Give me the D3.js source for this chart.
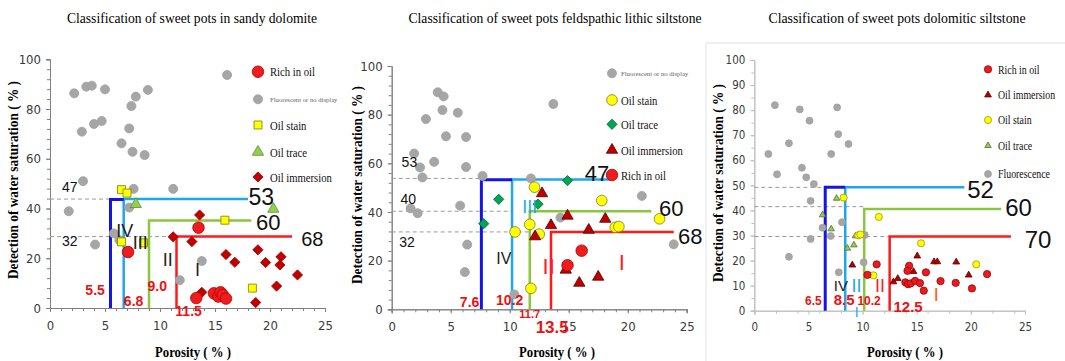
<!DOCTYPE html>
<html>
<head>
<meta charset="utf-8">
<script src="https://cdn.jsdelivr.net/npm/d3@7"></script>
<style>
  body { margin: 0; background: #fff; }
  svg { display: block; }
</style>
</head>
<body>
<svg id="chart" width="1065" height="361"></svg>
<script>
// ---------- data ----------
const titles = [
  "Classification  of sweet pots in sandy dolomite",
  "Classification  of sweet pots feldspathic  lithic  siltstone",
  "Classification  of sweet pots dolomitic  siltstone"
];
const xTickLabels = [0, 5, 10, 15, 20, 25];
const yTicksBy20 = [0, 20, 40, 60, 80, 100];
const yTicksBy10 = [0, 10, 20, 30, 40, 50, 60, 70, 80, 90, 100];

// sandy dolomite  [porosity, water saturation]
const sdFluor = [[2.2,86.3],[3.3,89.0],[3.8,89.4],[5.0,87.9],[8.9,87.7],[7.8,85.0],[7.4,81.2],[2.9,70.9],[4.0,74.0],[4.7,75.2],[7.2,72.2],[6.5,66.2],[7.5,62.8],[8.6,61.5],[16.1,93.7],[3.0,51.0],[1.7,38.9],[7.6,47.9],[11.2,47.9],[7.2,40.4],[4.1,25.5],[5.8,30.0],[6.3,27.3],[13.8,18.9],[11.8,11.2]];
const sdRich = [[7.1,22.5],[13.5,32.3],[13.3,4.0],[14.9,5.9],[15.3,4.6],[15.5,6.3],[15.7,5.3],[16.0,3.8]];
const sdStain = [[6.5,47.6],[7.0,46.2],[15.9,35.3],[18.4,8.0],[6.5,26.6],[8.5,26.2]];
const sdTrace = [[7.8,41.7],[20.3,39.8]];
const sdImmersion = [[11.2,28.6],[12.9,26.7],[13.6,37.4],[13.8,6.3],[16.0,21.5],[16.8,18.4],[18.9,23.4],[19.6,18.3],[21.0,20.6],[20.9,17.3],[22.5,13.3],[20.6,8.8],[18.7,2.2]];
const sdCutPorosity = [5.5, 6.7, 9.0, 11.5];
const sdCutSw = [43.6, 43.8, 35.2, 28.7];
const sdCutEnd = [6.7, 18.0, 18.3, 22.0];
const sdDashSw = [43.8, 28.7];
const sdDashEnd = [5.5, 11.5];

// feldspathic lithic siltstone
const flFluor = [[3.9,89.2],[4.4,87.5],[4.3,81.9],[2.9,78.2],[5.6,80.8],[4.6,71.1],[6.3,70.8],[13.7,84.4],[1.9,64.0],[2.4,58.3],[3.6,60.6],[2.6,54.2],[6.3,58.5],[7.7,54.8],[1.6,41.5],[2.2,39.5],[5.8,42.6],[6.4,26.6],[6.2,15.3],[11.8,53.8],[14.3,37.7],[21.2,46.6],[23.9,26.7],[10.4,6.1]];
const flStain = [[12.1,50.2],[17.8,44.7],[11.7,34.9],[10.45,31.8],[12.5,30.9],[18.95,33.7],[19.25,34.0],[22.7,37.2],[11.8,8.6]];
const flTrace = [[9.07,45.2],[12.4,43.2],[7.8,35.2],[14.9,52.9]];
const flImmersion = [[12.74,47.6],[14.9,38.4],[12.15,29.9],[13.5,34.5],[16.7,32.6],[18.1,37.1],[14.75,16.2],[15.9,10.8],[17.5,13.3]];
const flRich = [[16.1,24.1],[14.9,18.1]];
const flCutPorosity = [7.6, 10.2, 11.7, 13.5];
const flCutSw = [53.2, 53.4, 40.3, 31.8];
const flCutEnd = [10.2, 18.5, 22.0, 23.9];
const flDashSw = [53.8, 40.3, 31.8];
const flDashEnd = [7.6, 10.2, 11.7];

// dolomitic siltstone
const dsFluor = [[1.9,82.0],[4.2,80.3],[7.65,81.1],[5.1,75.8],[7.75,70.4],[8.7,66.5],[3.2,66.8],[1.3,62.5],[7.1,62.5],[2.1,54.4],[4.4,57.0],[4.8,53.2],[5.5,50.5],[5.2,43.8],[3.2,21.5],[6.3,33.1],[5.2,28.6],[7.05,29.8],[8.1,35.3],[7.8,15.3],[10.1,19.3],[10.2,30.2]];
const dsRich = [[10.45,14.3],[11.3,18.5],[13.95,11.3],[14.2,10.6],[14.45,10.9],[14.85,11.9],[14.3,17.9],[14.15,15.9],[15.3,11.0],[15.65,8.0],[15.85,15.3],[17.2,11.8],[18.6,11.1],[20.1,8.9],[21.5,14.6]];
const dsImmersion = [[9.05,18.2],[12.85,11.5],[13.25,12.8],[15.05,21.8],[16.6,19.5],[16.9,19.5],[18.65,19.4],[19.8,14.2],[14.7,15.6]];
const dsStain = [[8.25,45.1],[11.5,37.4],[9.6,30.1],[9.8,30.4],[11.0,14.1],[15.4,26.9],[20.5,18.5]];
const dsTrace = [[7.6,44.8],[6.3,38.2],[7.1,32.6],[9.35,29.8],[9.2,26.2],[8.6,24.9]];
const dsCutPorosity = [6.55, 8.4, 10.15, 12.5];
const dsCutSw = [49.2, 49.2, 40.6, 29.6];
const dsCutEnd = [8.4, 19.4, 22.8, 23.7];
const dsDashSw = [49.2, 41.5, 29.6];
const dsDashEnd = [6.55, 10.15, 12.5];

// ---------- styles ----------
const cutColors = ["#1414e6", "#1ea8ea", "#8cc63f", "#ff1a1a"];
const cutWidths = [3, 2.5, 2.5, 2.5];
const SANS = "'Liberation Sans', Arial, sans-serif";
const NARROW = "'Liberation Sans Narrow', 'Arial Narrow', 'DejaVu Sans Condensed', sans-serif";
const SERIF = "'Liberation Serif', 'Times New Roman', serif";

const mk = {
  greyBig:   {type: "circle", size: 64, fill: "#a6a6a6", stroke: "#a0a0a0"},
  greySmall: {type: "circle", size: 38, fill: "#a6a6a6", stroke: "#a0a0a0"},
  redBig:    {type: "circle", size: 105, fill: "#ee1c1c", stroke: "#b00000"},
  redSmall:  {type: "circle", size: 42, fill: "#e51c23", stroke: "#a00000"},
  square:    {type: "square", size: 64, fill: "#ffff00", stroke: "#7f7f00"},
  yellowBig: {type: "circle", size: 90, fill: "#ffff00", stroke: "#7a7a30"},
  yellowSm:  {type: "circle", size: 40, fill: "#ffff00", stroke: "#9a9a00"},
  limeTri:   {type: "triangle", size: 55, fill: "#92d050", stroke: "#5e8a2e"},
  limeTriSm: {type: "triangle", size: 18, fill: "#92d050", stroke: "#556b2f"},
  redDiam:   {type: "diamond", size: 52, fill: "#c00000", stroke: "#a00000"},
  greenDiam: {type: "diamond", size: 52, fill: "#00a651", stroke: "#006b35"},
  darkTri:   {type: "triangle", size: 55, fill: "#c00000", stroke: "#500000"},
  darkTriSm: {type: "triangle", size: 20, fill: "#b00000", stroke: "#600000"}
};

const panels = [
  {
    title: titles[0], titleX: 192, titleLen: 250,
    left: 50, right: 325, top: 59.3, bottom: 308,
    yTicks: yTicksBy20, yMinor: 4, xMinor: 1, tickFont: 13,
    axisColor: "#808080", xPad: 9, yPad: 5,
    yLabelX: 13, yLabelY: 180, xLabelX: 193,
    legendFont: 13,
    layers: [[sdFluor, mk.greyBig], [sdImmersion, mk.redDiam], [sdStain, mk.square], [sdTrace, mk.limeTri], [sdRich, mk.redBig]],
    cuts: [sdCutPorosity, sdCutSw, sdCutEnd], dash: [sdDashSw, sdDashEnd],
    notes: [
      ["47", 1.8, 48.8, 14, "#111", "normal"], ["32", 1.8, 26.7, 14, "#111", "normal"],
      ["53", 19.2, 44.8, 23, "#111", "normal"], ["60", 19.85, 34.3, 22, "#111", "normal"], ["68", 23.85, 27.6, 20, "#111", "normal"],
      ["5.5", 4.1, 7.2, 14, "#ee1111", "bold"], ["6.8", 7.6, 2.9, 14, "#ee1111", "bold"],
      ["9.0", 9.75, 8.8, 14, "#ee1111", "bold"], ["11.5", 12.6, -1.2, 14, "#ee1111", "bold"],
      ["IV", 6.8, 31.1, 18, "#222", "normal"], ["III", 8.2, 26.3, 18, "#222", "normal"],
      ["II", 10.7, 19.3, 18, "#222", "normal"], ["I", 13.4, 15.6, 18, "#222", "normal"]
    ],
    legendX: 258, legendTextX: 270,
    legend: [[mk.redBig, "Rich in oil", 71.7], [mk.greyBig, "Fluorescent or no display", 99.3], [mk.square, "Oil stain", 125],
             [mk.limeTri, "Oil trace", 152], [mk.redDiam, "Oil immersion", 177]]
  },
  {
    title: titles[1], titleX: 555, titleLen: 293,
    left: 391.7, right: 686.7, top: 66, bottom: 309.3,
    yTicks: yTicksBy20, yMinor: 4, xMinor: 1, tickFont: 13,
    axisColor: "#808080", xPad: 8, yPad: 5,
    yLabelX: 357, yLabelY: 185, xLabelX: 557,
    legendFont: 13,
    layers: [[flFluor, mk.greyBig], [flStain, mk.yellowBig], [flImmersion, mk.darkTri], [flTrace, mk.greenDiam], [flRich, mk.redBig]],
    cuts: [flCutPorosity, flCutSw, flCutEnd], dash: [flDashSw, flDashEnd],
    notes: [
      ["53", 1.5, 60.3, 14, "#111", "normal"], ["40", 1.4, 45.2, 14, "#111", "normal"], ["32", 1.3, 27.8, 14, "#111", "normal"],
      ["47", 17.4, 55.9, 22, "#111", "normal"], ["60", 23.7, 41.5, 22, "#111", "normal"], ["68", 25.3, 29.8, 22, "#111", "normal"],
      ["7.6", 6.6, 3.1, 14, "#ee1111", "bold"], ["10.2", 10.0, 3.8, 14, "#ee1111", "bold"],
      ["11.7", 11.7, -1.9, 11, "#ee1111", "bold"], ["13.5", 13.6, -7.2, 17, "#ee1111", "bold"],
      ["IV", 9.5, 21.0, 16, "#222", "normal"], ["III", 11.7, 42.2, 18, "#1ea8ea", "normal"],
      ["II", 13.3, 17.8, 22, "#ff2020", "normal"], ["I", 19.5, 19.2, 22, "#ff2020", "normal"]
    ],
    legendX: 612, legendTextX: 621,
    legend: [[mk.greyBig, "Fluorescent or no display", 73.3], [mk.yellowBig, "Oil stain", 100], [mk.greenDiam, "Oil trace", 124.3],
             [mk.darkTri, "Oil immersion", 150], [mk.redBig, "Rich in oil", 175]]
  },
  {
    title: titles[2], titleX: 897, titleLen: 257,
    left: 754.3, right: 1025, top: 60, bottom: 310.7,
    yTicks: yTicksBy10, yMinor: 5, xMinor: 2, tickFont: 11.5,
    axisColor: "#c0c0c0", xPad: 8, yPad: 5,
    yLabelX: 718, yLabelY: 183, xLabelX: 905,
    legendFont: 12,
    frame: true,
    layers: [[dsFluor, mk.greySmall], [dsTrace, mk.limeTriSm], [dsStain, mk.yellowSm], [dsImmersion, mk.darkTriSm], [dsRich, mk.redSmall]],
    cuts: [dsCutPorosity, dsCutSw, dsCutEnd], dash: [dsDashSw, dsDashEnd],
    notes: [
      ["52", 20.9, 48.4, 24, "#111", "normal"], ["60", 24.4, 41.2, 24, "#111", "normal"], ["70", 26.2, 28.2, 24, "#111", "normal"],
      ["6.5", 5.45, 3.9, 12, "#ee1111", "bold"], ["8.5", 8.3, 4.2, 15, "#ee1111", "bold"],
      ["10.2", 10.6, 3.8, 12, "#ee1111", "bold"], ["12.5", 14.2, 1.6, 15, "#ee1111", "bold"],
      ["IV", 8.0, 10.0, 15, "#222", "normal"], ["II", 9.45, 10.0, 18, "#1ea8ea", "normal"], ["I", 9.45, -0.4, 14, "#1ea8ea", "normal"],
      ["II", 11.6, 9.8, 18, "#ff2020", "normal"], ["I", 16.8, 6.3, 18, "#ff5a10", "normal"]
    ],
    legendX: 988, legendTextX: 998,
    legend: [[mk.redSmall, "Rich in oil", 69.3], [mk.darkTriSm, "Oil immersion", 95], [mk.yellowSm, "Oil stain", 120],
             [mk.limeTriSm, "Oil trace", 145.7], [mk.greySmall, "Fluorescence", 174]]
  }
];

// ---------- drawing ----------
const svg = d3.select("#chart");
const symType = {circle: d3.symbolCircle, square: d3.symbolSquare, triangle: d3.symbolTriangle, diamond: d3.symbolSquare};

function drawMark(sel, m) {
  sel.attr("d", d3.symbol().type(symType[m.type]).size(m.size)())
     .attr("fill", m.fill)
     .attr("stroke", m.stroke)
     .attr("stroke-width", 0.8);
}

function styleAxis(g, p) {
  g.select(".domain").attr("stroke", p.axisColor);
  g.selectAll(".tick line").attr("stroke", p.axisColor);
  g.selectAll(".tick text")
    .attr("fill", "#3a3a3a")
    .attr("font-family", NARROW)
    .attr("font-size", p.tickFont);
}

// squeeze a text horizontally, the reference fonts look condensed
function squeeze(text, k) {
  text.each(function () {
    const len = this.getComputedTextLength();
    d3.select(this).attr("textLength", len * k).attr("lengthAdjust", "spacingAndGlyphs");
  });
}

function drawPanel(p) {
  const g = svg.append("g");
  const x = d3.scaleLinear([0, 25], [p.left, p.right]);
  const y = d3.scaleLinear([0, 100], [p.bottom, p.top]);

  if (p.frame) {
    g.append("path")
      .attr("d", `M706,361V43H1065`)
      .attr("fill", "none").attr("stroke", "#e2e2e2");
  }

  // title
  g.append("text")
    .attr("x", p.titleX).attr("y", 23)
    .attr("text-anchor", "middle")
    .attr("font-family", SERIF).attr("font-size", 14)
    .attr("textLength", p.titleLen).attr("lengthAdjust", "spacingAndGlyphs")
    .text(p.title);

  // axes: minor ticks then labelled ones
  g.append("g").attr("transform", `translate(0,${p.bottom})`)
    .call(d3.axisBottom(x).tickValues(d3.range(0, 25.01, p.xMinor)).tickSize(3).tickFormat(""))
    .call(a => styleAxis(a, p));
  g.append("g").attr("transform", `translate(0,${p.bottom})`)
    .call(d3.axisBottom(x).tickValues(xTickLabels).tickSize(4).tickPadding(p.xPad))
    .call(a => styleAxis(a, p));
  g.append("g").attr("transform", `translate(${p.left},0)`)
    .call(d3.axisLeft(y).tickValues(d3.range(0, 100.01, p.yMinor)).tickSize(3).tickFormat(""))
    .call(a => styleAxis(a, p));
  g.append("g").attr("transform", `translate(${p.left},0)`)
    .call(d3.axisLeft(y).tickValues(p.yTicks).tickSize(4).tickPadding(p.yPad))
    .call(a => styleAxis(a, p));

  // axis titles
  g.append("text")
    .attr("transform", `translate(${p.yLabelX},${p.yLabelY}) rotate(-90)`)
    .attr("text-anchor", "middle").attr("dy", "0.35em")
    .attr("font-family", SERIF).attr("font-weight", "bold").attr("font-size", 15)
    .attr("textLength", 198).attr("lengthAdjust", "spacingAndGlyphs")
    .text("Detection of water saturation ( % )");
  g.append("text")
    .attr("x", p.xLabelX).attr("y", 352)
    .attr("text-anchor", "middle").attr("dy", "0.35em")
    .attr("font-family", SERIF).attr("font-weight", "bold").attr("font-size", 14)
    .attr("textLength", 76).attr("lengthAdjust", "spacingAndGlyphs")
    .text("Porosity  ( % )");

  // dashed reference lines
  const [dashSw, dashEnd] = p.dash;
  g.selectAll(".dash").data(dashSw).join("line")
    .attr("x1", x(0)).attr("x2", (d, i) => x(dashEnd[i]))
    .attr("y1", d => y(d)).attr("y2", d => y(d))
    .attr("stroke", "#9a9a9a").attr("stroke-width", 1).attr("stroke-dasharray", "4,3");

  // classification boundaries (red first, dark blue on top)
  const [cutX, cutSw, cutEnd] = p.cuts;
  const order = [3, 2, 1, 0];
  g.selectAll(".cut").data(order).join("path")
    .attr("d", i => d3.line()([[x(cutX[i]), y(0)], [x(cutX[i]), y(cutSw[i])], [x(cutEnd[i]), y(cutSw[i])]]))
    .attr("fill", "none")
    .attr("stroke", i => cutColors[i])
    .attr("stroke-width", i => cutWidths[i]);

  // points
  p.layers.forEach(([data, m]) => {
    g.append("g").selectAll("path").data(data).join("path")
      .call(s => drawMark(s, m))
      .attr("transform", d => `translate(${x(d[0])},${y(d[1])})${m.type === "diamond" ? " rotate(45)" : ""}`);
  });

  // annotations
  g.selectAll(".note").data(p.notes).join("text")
    .attr("x", d => x(d[1])).attr("y", d => y(d[2]))
    .attr("text-anchor", "middle").attr("dy", "0.35em")
    .attr("font-family", SANS)
    .attr("font-size", d => d[3]).attr("fill", d => d[4]).attr("font-weight", d => d[5])
    .text(d => d[0]);

  // legend
  p.legend.forEach(([m, label, ly]) => {
    g.append("path").call(s => drawMark(s, m))
      .attr("transform", `translate(${p.legendX},${ly})${m.type === "diamond" ? " rotate(45)" : ""}`);
    const tiny = label.startsWith("Fluorescent or");
    g.append("text")
      .attr("x", p.legendTextX).attr("y", ly).attr("dy", "0.35em")
      .attr("font-family", SERIF)
      .attr("font-size", tiny ? 7 : p.legendFont)
      .attr("fill", tiny ? "#666" : "#111")
      .text(label)
      .call(t => squeeze(t, tiny ? 0.95 : 0.82));
  });
}

panels.forEach(drawPanel);
</script>
</body>
</html>
